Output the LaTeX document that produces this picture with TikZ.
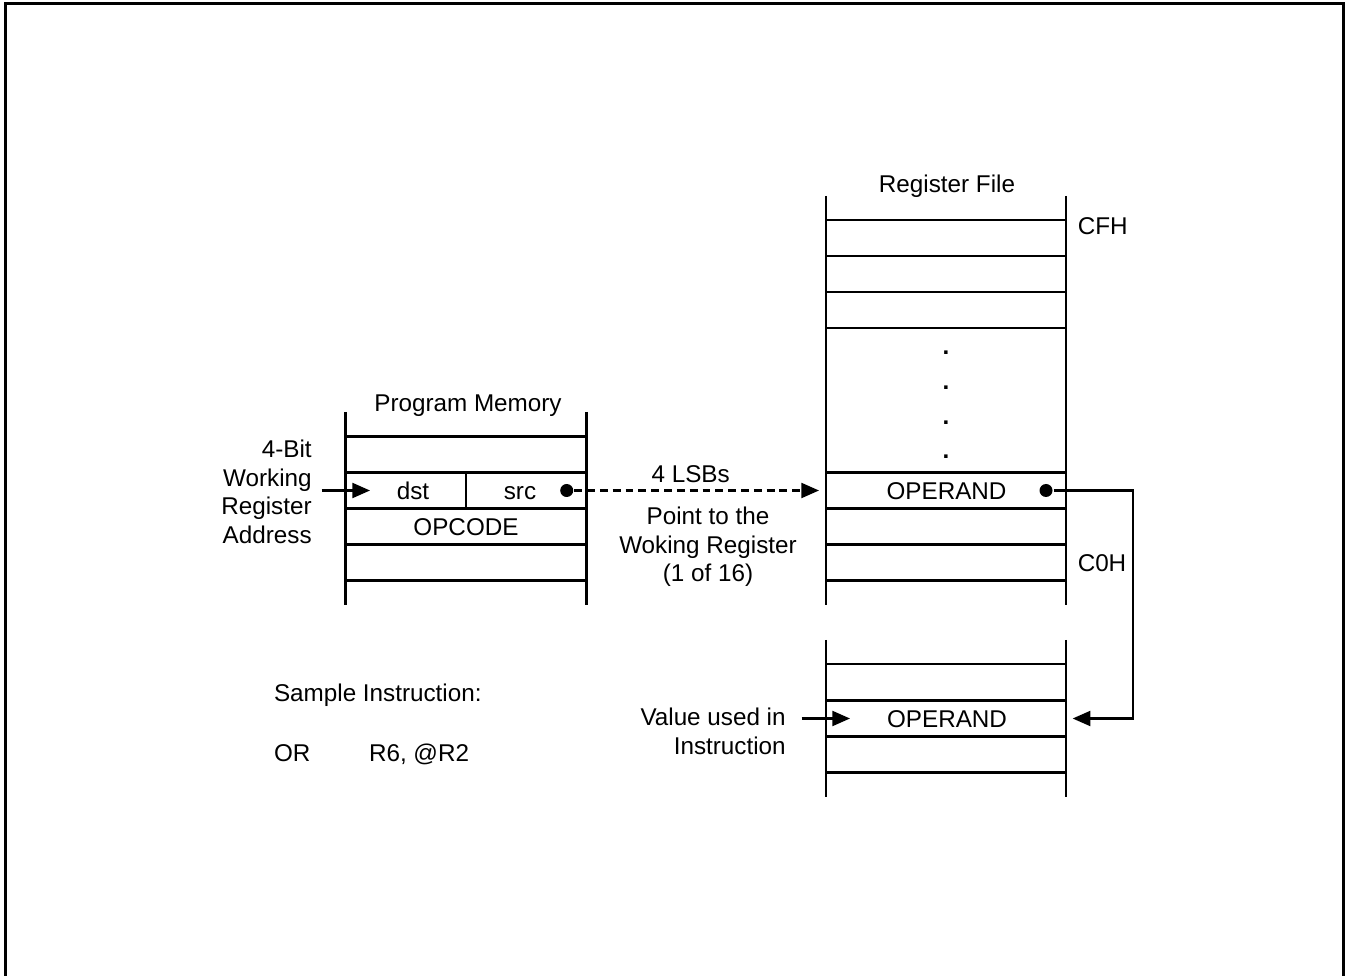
\documentclass[tikz,border=0pt]{standalone}
\usepackage{fontspec}
\setmainfont{Liberation Sans}
\usetikzlibrary{arrows.meta}

\begin{document}
\begin{tikzpicture}[x=0.02cm,y=-0.02cm,line width=1.2pt,
    every node/.style={font=\fontsize{13.8}{16.3}\selectfont,inner sep=0pt},
    txt/.style={text height=9.9pt,text depth=0pt}]
        \useasboundingbox (0,0) rectangle (1350,976);
        \tikzset{fleche/.style={-{Triangle[length=10pt,width=8.5pt]}},
                 puce/.style={circle,fill,minimum size=7.4pt}}
        % cadre
        \draw[line width=1.9pt] (5.7,980) -- (5.7,3.7) -- (1343.3,3.7) -- (1343.3,980);
        % program memory
        \node[txt] (PM) at (468,402.5) {Program Memory};
        \draw (345.5,412) -- (345.5,605);
        \draw (586.5,412) -- (586.5,605);
        \draw (345.5,436.5) -- (586.5,436.5);
        \draw (345.5,472.5) -- (586.5,472.5);
        \draw (345.5,508.5) -- (586.5,508.5);
        \draw (345.5,544.5) -- (586.5,544.5);
        \draw (345.5,580.5) -- (586.5,580.5);
        \draw (466,472.5) -- (466,508.5);
        \node[txt] (dst) at (413,490.5) {dst};
        \node[txt] (src) at (520,490.5) {src};
        \node[txt] (OPC) at (466,526.5) {OPCODE};
        \node[puce] (SD) at (566.7,490.5) {};
        % register file
        \node[txt] (RF) at (947,184) {Register File};
        \draw (826,196) -- (826,605);
        \draw (1066,196) -- (1066,605);
        \draw (826,220) -- (1066,220);
        \draw (826,256) -- (1066,256);
        \draw (826,292) -- (1066,292);
        \draw (826,328) -- (1066,328);
        \draw (826,472.5) -- (1066,472.5);
        \draw (826,508.5) -- (1066,508.5);
        \draw (826,544.5) -- (1066,544.5);
        \draw (826,580.5) -- (1066,580.5);
        \node[anchor=base] (D1) at (946,354.5) {\textbf{.}};
        \node[anchor=base] (D2) at (946,389.5) {\textbf{.}};
        \node[anchor=base] (D3) at (946,424.7) {\textbf{.}};
        \node[anchor=base] (D4) at (946,458.5) {\textbf{.}};
        \node[txt,anchor=west] (CFH) at (1076.7,226) {CFH};
        \node[txt,anchor=west] (C0H) at (1076.7,563) {C0H};
        \node[txt] (OP1) at (946.5,490.5) {OPERAND};
        \node[puce] (OD) at (1046,490.5) {};
        % copie du registre
        \draw (826,640) -- (826,797);
        \draw (1066,640) -- (1066,797);
        \draw (826,664) -- (1066,664);
        \draw (826,700.5) -- (1066,700.5);
        \draw (826,736.5) -- (1066,736.5);
        \draw (826,772.5) -- (1066,772.5);
        \node[txt] (OP2) at (947,718.5) {OPERAND};
        % textes
        \node[anchor=north east,align=right] (ADR) at (312.7,439) {4-Bit\\Working\\Register\\Address};
        \node[txt] (LSB) at (690.7,473.5) {4 LSBs};
        \node[anchor=north,align=center] (PT) at (708,506) {Point to the\\Woking Register\\(1 of 16)};
        \node[anchor=north east,align=right] (VAL) at (786.7,707) {Value used in\\Instruction};
        \node[txt,anchor=west] (SI) at (273,692.5) {Sample Instruction:};
        \node[txt,anchor=west] (OR) at (273,752.5) {OR};
        \node[txt,anchor=west] (ARG) at (368,752.5) {R6, @R2};
        % fleches
        \coordinate (A0) at (321.7,490.5);
        \coordinate (A1) at (370,490.5);
        \coordinate (B1) at (819,490.5);
        \coordinate (C0) at (801.7,718.5);
        \coordinate (C1) at (850,718.5);
        \coordinate (E1) at (1072.7,718.5);
        \draw[fleche] (A0) -- (A1);
        \draw[fleche,dash pattern=on 4.5pt off 2.8pt] (SD) -- (B1);
        \draw[fleche] (C0) -- (C1);
        \draw[fleche] (OD) -- (1132.7,490.5) -- (1132.7,718.5) -- (E1);
\end{tikzpicture}
\end{document}
